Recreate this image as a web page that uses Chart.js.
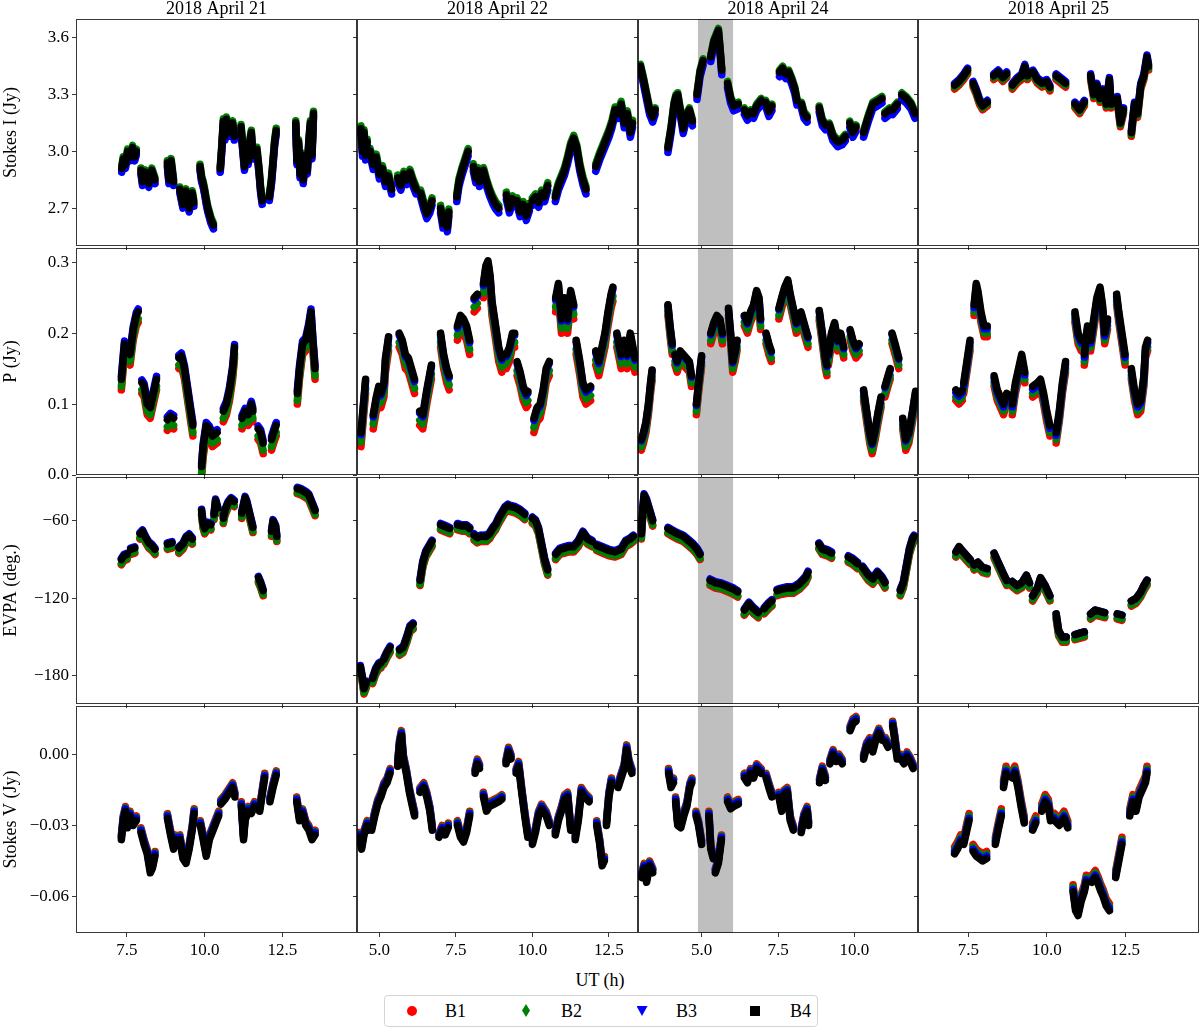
<!DOCTYPE html>
<html>
<head>
<meta charset="utf-8">
<script src="https://cdn.jsdelivr.net/npm/chart.js@4/dist/chart.umd.min.js"></script>
<style>
html, body { margin: 0; padding: 0; background: #fff; overflow: hidden; }
#fig { position: relative; width: 1200px; height: 1029px; font-family: 'Liberation Serif', 'Times New Roman', serif; color: #000; }
#fig canvas { position: absolute; }
#xlabel { position: absolute; left: 0; top: 969px; width: 1200px; text-align: center; font-size: 18px; line-height: 22px; }
#legend { position: absolute; left: 384px; top: 995px; width: 434px; height: 32px; box-sizing: border-box; border: 1px solid #d4d4d4; border-radius: 4px; background: #fff; }
#legend .txt { position: absolute; top: 4px; font-size: 18px; line-height: 22px; }
#legend .mk { position: absolute; }
</style>
</head>
<body>
<div id="fig">
  <div id="xlabel">UT (h)</div>
  <div id="legend"></div>
</div>
<script>
// ---- data ----
var bands = ['B1', 'B2', 'B3', 'B4'];
var dates = ['2018 April 21', '2018 April 22', '2018 April 24', '2018 April 25'];
var quantities = ['Stokes I (Jy)', 'P (Jy)', 'EVPA (deg.)', 'Stokes V (Jy)'];
var xRanges = [[5.86, 14.9], [4.27, 13.45], [2.92, 12.08], [5.89, 14.86]];
var xTicks = [[7.5, 10, 12.5], [5, 7.5, 10, 12.5], [5, 7.5, 10], [7.5, 10, 12.5]];
var yRanges = [[2.50, 3.70], [0, 0.32], [-201.8, -26], [-0.0754, 0.0204]];
var yTicks = [[2.7, 3.0, 3.3, 3.6], [0, 0.1, 0.2, 0.3], [-180, -120, -60], [-0.06, -0.03, 0]];
var yDecimals = [1, 1, 0, 2];
var shadeApr24 = [4.88, 6.03];

// band offsets of B1, B2, B3 relative to B4, per day
var offI = [[-0.012, 0.012, -0.02], [-0.006, 0.015, -0.025], [-0.01, 0.01, -0.025], [-0.02, -0.01, 0.01]];
var offP = [[-0.015, -0.01, 0.004], [-0.02, -0.013, -0.003], [-0.015, -0.01, -0.002], [-0.015, -0.01, -0.004]];
var offEVPA = [[-4, -3, 1], [-4, -3, 1], [-4, -3, 1], [-4, -3, 0]];
var offV = [[0.002, 0.0015, 0.001], [0.002, 0.0015, 0.001], [0.002, 0.0015, 0.001], [0.003, 0.002, 0.001]];

// B4 scans: [UT, value] per scan
var I_0421 = [
  [[7.33,2.91],[7.38,2.96],[7.45,2.93],[7.52,3.00],[7.6,2.97],[7.68,3.02],[7.75,2.97],[7.8,3.00]],
  [[7.95,2.90],[8.0,2.84],[8.1,2.89],[8.2,2.83],[8.3,2.90],[8.4,2.85]],
  [[8.8,2.94],[8.85,2.85],[8.92,2.95],[9.0,2.84]],
  [[9.2,2.80],[9.3,2.72],[9.4,2.79],[9.5,2.70],[9.6,2.78],[9.65,2.73]],
  [[9.85,2.92],[9.9,2.86],[9.95,2.83],[10.0,2.79],[10.05,2.74],[10.1,2.70],[10.15,2.67],[10.2,2.64],[10.28,2.61]],
  [[10.5,2.91],[10.55,3.02],[10.6,3.16],[10.65,3.08],[10.7,3.17],[10.8,3.10],[10.9,3.15],[10.95,3.08]],
  [[11.17,3.13],[11.22,3.03],[11.28,2.92],[11.32,2.98],[11.4,2.95],[11.45,3.05],[11.5,3.10],[11.55,2.98]],
  [[11.68,3.01],[11.75,2.90],[11.8,2.80],[11.85,2.74]],
  [[12.08,2.76],[12.15,2.85],[12.2,2.95],[12.25,3.05],[12.3,3.11]],
  [[12.93,3.15],[12.97,2.95],[13.02,3.05],[13.07,2.88],[13.12,2.98],[13.17,2.85],[13.22,2.95],[13.3,2.90],[13.35,3.05],[13.4,3.15],[13.45,2.98],[13.5,3.20]]
];
var I_0422 = [
  [[4.4,3.12],[4.45,3.0],[4.5,3.1],[4.55,2.98],[4.6,3.05]],
  [[4.7,3.00],[4.8,2.93],[4.9,2.97],[5.0,2.88],[5.1,2.91],[5.2,2.84],[5.3,2.87],[5.4,2.80]],
  [[5.6,2.86],[5.7,2.82],[5.8,2.88],[5.9,2.85],[6.0,2.89],[6.1,2.84],[6.2,2.80]],
  [[6.35,2.78],[6.45,2.72],[6.55,2.67],[6.65,2.70],[6.72,2.74]],
  [[7.0,2.70],[7.08,2.62],[7.15,2.66],[7.22,2.60],[7.27,2.68]],
  [[7.53,2.76],[7.6,2.84],[7.7,2.90],[7.8,2.95],[7.9,3.0]],
  [[8.07,2.92],[8.15,2.86],[8.22,2.90],[8.27,2.84]],
  [[8.4,2.90],[8.5,2.84],[8.6,2.79],[8.7,2.75],[8.8,2.72],[8.9,2.70]],
  [[9.15,2.77],[9.25,2.70],[9.35,2.75]],
  [[9.5,2.74],[9.6,2.68],[9.7,2.72],[9.8,2.66],[9.9,2.71]],
  [[10.0,2.74],[10.1,2.76],[10.2,2.73],[10.3,2.78],[10.4,2.76],[10.5,2.82]],
  [[10.75,2.76],[10.85,2.82],[10.95,2.86],[11.05,2.90],[11.15,2.96],[11.25,3.03],[11.35,3.07],[11.45,3.02],[11.55,2.92],[11.65,2.85],[11.75,2.80]],
  [[12.07,2.92],[12.2,2.98],[12.35,3.04],[12.5,3.10],[12.6,3.15],[12.7,3.22],[12.8,3.20],[12.9,3.25],[13.0,3.15],[13.1,3.20],[13.2,3.10],[13.27,3.15]]
];
var I_0424 = [
  [[3.0,3.45],[3.1,3.38],[3.2,3.30],[3.3,3.22],[3.4,3.18],[3.48,3.22]],
  [[3.9,3.02],[4.0,3.12],[4.1,3.25],[4.16,3.29]],
  [[4.22,3.30],[4.3,3.22],[4.4,3.12],[4.5,3.19],[4.6,3.22],[4.7,3.16]],
  [[4.85,3.30],[4.95,3.42],[5.05,3.48]],
  [[5.3,3.50],[5.4,3.58],[5.5,3.62],[5.55,3.64],[5.6,3.55],[5.66,3.43]],
  [[5.85,3.36],[5.95,3.28],[6.05,3.24],[6.2,3.25]],
  [[6.4,3.22],[6.5,3.19],[6.6,3.21],[6.7,3.20],[6.8,3.24],[6.95,3.27]],
  [[7.1,3.26],[7.2,3.21],[7.3,3.24]],
  [[7.55,3.42],[7.65,3.44],[7.75,3.41],[7.85,3.42],[7.95,3.38],[8.05,3.33],[8.12,3.27]],
  [[8.27,3.25],[8.35,3.20],[8.45,3.18]],
  [[8.85,3.23],[8.95,3.16],[9.05,3.14]],
  [[9.18,3.14],[9.3,3.08],[9.45,3.05],[9.6,3.06],[9.7,3.08]],
  [[9.85,3.15],[9.95,3.10],[10.05,3.13]],
  [[10.3,3.10],[10.45,3.18],[10.6,3.25],[10.8,3.27],[10.9,3.28]],
  [[11.0,3.20],[11.15,3.22]],
  [[11.25,3.22],[11.4,3.25]],
  [[11.55,3.30],[11.7,3.28],[11.85,3.25],[11.98,3.20]]
];
var I_0425 = [
  [[7.06,3.35],[7.2,3.37],[7.35,3.40],[7.47,3.43]],
  [[7.65,3.36],[7.75,3.32],[7.85,3.27],[7.95,3.24],[8.1,3.26]],
  [[8.31,3.40],[8.45,3.42],[8.6,3.39],[8.72,3.41]],
  [[8.9,3.35],[9.05,3.38],[9.2,3.40],[9.3,3.45],[9.38,3.40]],
  [[9.56,3.42],[9.7,3.38],[9.85,3.36],[10.0,3.37],[10.1,3.34]],
  [[10.3,3.40],[10.45,3.38],[10.6,3.36]],
  [[10.9,3.25],[11.05,3.22],[11.2,3.26]],
  [[11.4,3.40],[11.5,3.30],[11.6,3.35],[11.7,3.28],[11.8,3.32],[11.9,3.25],[12.0,3.38],[12.05,3.25]],
  [[12.25,3.28],[12.35,3.15],[12.45,3.22]],
  [[12.7,3.10],[12.8,3.25],[12.9,3.20],[13.0,3.35],[13.1,3.40],[13.2,3.50],[13.25,3.45]]
];

var P_0421 = [
  [[7.32,0.135],[7.38,0.165],[7.42,0.185],[7.5,0.175],[7.6,0.17],[7.7,0.205],[7.8,0.225],[7.86,0.23]],
  [[7.98,0.13],[8.05,0.125],[8.15,0.1],[8.25,0.095],[8.35,0.115],[8.45,0.135]],
  [[8.8,0.078],[8.9,0.083],[9.0,0.08]],
  [[9.17,0.165],[9.25,0.168],[9.35,0.15],[9.45,0.12],[9.55,0.09],[9.62,0.07]],
  [[9.9,0.012],[9.95,0.04],[10.05,0.07],[10.15,0.065],[10.25,0.055],[10.4,0.06]],
  [[10.6,0.09],[10.7,0.1],[10.8,0.12],[10.9,0.15],[10.96,0.18]],
  [[11.2,0.08],[11.3,0.09],[11.4,0.085],[11.5,0.1],[11.55,0.09]],
  [[11.72,0.065],[11.8,0.06],[11.88,0.045]],
  [[12.15,0.05],[12.22,0.06],[12.3,0.07]],
  [[12.98,0.115],[13.05,0.15],[13.15,0.185],[13.25,0.19],[13.35,0.21],[13.42,0.23],[13.48,0.19],[13.55,0.15]]
];
var P_0422 = [
  [[4.4,0.06],[4.48,0.1],[4.55,0.135]],
  [[4.8,0.085],[4.9,0.11],[4.98,0.125],[5.05,0.115],[5.15,0.13],[5.2,0.165],[5.3,0.195]],
  [[5.65,0.2],[5.75,0.19],[5.85,0.17],[5.95,0.165],[6.05,0.15],[6.15,0.135]],
  [[6.32,0.09],[6.42,0.085],[6.55,0.12],[6.7,0.155]],
  [[7.0,0.2],[7.1,0.17],[7.2,0.15],[7.28,0.14]],
  [[7.55,0.21],[7.65,0.225],[7.75,0.22],[7.85,0.21],[7.95,0.19]],
  [[8.1,0.25],[8.2,0.255]],
  [[8.4,0.27],[8.48,0.295],[8.55,0.302],[8.62,0.28],[8.68,0.245],[8.8,0.21],[8.9,0.18],[9.0,0.165]],
  [[9.15,0.17],[9.25,0.18],[9.35,0.2],[9.42,0.2]],
  [[9.5,0.16],[9.6,0.145],[9.7,0.125],[9.8,0.115],[9.85,0.118]],
  [[10.05,0.08],[10.15,0.095],[10.25,0.1],[10.35,0.12],[10.45,0.15],[10.55,0.16]],
  [[10.76,0.25],[10.85,0.27],[10.95,0.22],[11.05,0.25],[11.15,0.22],[11.25,0.26],[11.35,0.24]],
  [[11.43,0.19],[11.55,0.16],[11.65,0.13],[11.75,0.12],[11.9,0.125]],
  [[12.07,0.175],[12.17,0.16],[12.27,0.18],[12.37,0.2],[12.47,0.23],[12.57,0.255],[12.63,0.265]],
  [[12.76,0.2],[12.9,0.17],[13.0,0.19],[13.1,0.17],[13.2,0.2],[13.35,0.165]]
];
var P_0424 = [
  [[3.03,0.05],[3.1,0.06],[3.18,0.075],[3.26,0.1],[3.33,0.13],[3.38,0.148]],
  [[3.9,0.24],[3.97,0.21],[4.04,0.185]],
  [[4.13,0.17],[4.2,0.16],[4.3,0.175],[4.4,0.17],[4.5,0.165],[4.6,0.16],[4.67,0.14]],
  [[4.83,0.1],[4.9,0.13],[5.0,0.168]],
  [[5.3,0.2],[5.4,0.215],[5.5,0.225],[5.6,0.22],[5.68,0.2]],
  [[5.88,0.235],[5.95,0.2],[6.02,0.16],[6.1,0.175],[6.16,0.19]],
  [[6.4,0.225],[6.5,0.215],[6.6,0.23],[6.7,0.24],[6.8,0.26],[6.88,0.25],[6.93,0.22]],
  [[7.11,0.2],[7.2,0.185],[7.28,0.175]],
  [[7.53,0.235],[7.62,0.25],[7.72,0.265],[7.82,0.275],[7.9,0.255],[8.0,0.235],[8.1,0.215]],
  [[8.25,0.23],[8.38,0.21],[8.48,0.195]],
  [[8.85,0.232],[8.95,0.2],[9.05,0.165],[9.1,0.155]],
  [[9.15,0.17],[9.25,0.2],[9.35,0.215],[9.45,0.19],[9.55,0.2],[9.65,0.18]],
  [[9.86,0.205],[9.95,0.19],[10.05,0.18],[10.15,0.185]],
  [[10.3,0.12],[10.4,0.09],[10.5,0.06],[10.58,0.045],[10.68,0.065],[10.78,0.09],[10.87,0.11]],
  [[11.0,0.125],[11.1,0.14],[11.17,0.15]],
  [[11.23,0.2],[11.33,0.185],[11.45,0.165]],
  [[11.58,0.08],[11.68,0.05],[11.78,0.06],[11.9,0.09],[12.0,0.118]]
];
var P_0425 = [
  [[7.1,0.12],[7.2,0.115],[7.3,0.12]],
  [[7.35,0.13],[7.45,0.16],[7.55,0.19]],
  [[7.68,0.24],[7.75,0.27],[7.8,0.26],[7.9,0.23],[8.0,0.21],[8.1,0.21]],
  [[8.32,0.14],[8.42,0.12],[8.52,0.11],[8.62,0.1],[8.72,0.115]],
  [[8.9,0.1],[9.0,0.13],[9.1,0.15],[9.2,0.17],[9.3,0.145]],
  [[9.55,0.125],[9.7,0.13],[9.8,0.135],[9.9,0.115],[10.0,0.09],[10.1,0.07]],
  [[10.3,0.06],[10.4,0.09],[10.5,0.13],[10.6,0.16]],
  [[10.9,0.23],[11.0,0.2],[11.1,0.19]],
  [[11.2,0.17],[11.3,0.21]],
  [[11.4,0.19],[11.5,0.22],[11.6,0.25],[11.7,0.265],[11.78,0.24],[11.85,0.2],[11.94,0.22]],
  [[12.23,0.255],[12.3,0.23],[12.4,0.2],[12.5,0.17]],
  [[12.7,0.15],[12.8,0.12],[12.9,0.1],[13.0,0.105],[13.1,0.14],[13.15,0.18],[13.22,0.19]]
];

var EVPA_0421 = [
  [[7.32,-90],[7.4,-87],[7.5,-86]],
  [[7.62,-82],[7.75,-81]],
  [[7.92,-70],[8.0,-68],[8.1,-73],[8.2,-77],[8.3,-79],[8.4,-82]],
  [[8.8,-78],[8.95,-77]],
  [[9.17,-81],[9.3,-78],[9.4,-73],[9.5,-71],[9.6,-74]],
  [[9.9,-52],[9.95,-62],[10.0,-66],[10.1,-62],[10.2,-63]],
  [[10.3,-55],[10.35,-44],[10.42,-50]],
  [[10.6,-58],[10.65,-52],[10.75,-46],[10.85,-43],[10.95,-45]],
  [[11.19,-54],[11.3,-42],[11.35,-45],[11.45,-55],[11.55,-65]],
  [[11.73,-104],[11.8,-108],[11.88,-114]],
  [[12.15,-68],[12.2,-60],[12.28,-64],[12.32,-72]],
  [[12.98,-35],[13.1,-36],[13.25,-38],[13.35,-40],[13.45,-46],[13.55,-52]]
];
var EVPA_0422 = [
  [[4.38,-173],[4.45,-182],[4.5,-190],[4.58,-185]],
  [[4.78,-182],[4.88,-175],[4.98,-171],[5.05,-170]],
  [[5.15,-167],[5.25,-162],[5.35,-158]],
  [[5.66,-160],[5.78,-158],[5.9,-150],[6.0,-142],[6.1,-140]],
  [[6.33,-106],[6.42,-92],[6.52,-84],[6.62,-80],[6.72,-76]],
  [[7.0,-63],[7.1,-64],[7.2,-65],[7.3,-66]],
  [[7.55,-63],[7.7,-64],[7.85,-64],[7.95,-66]],
  [[8.1,-71],[8.2,-73],[8.3,-72]],
  [[8.4,-72],[8.5,-72],[8.6,-70],[8.7,-66],[8.8,-63],[8.9,-58],[9.0,-54],[9.1,-50],[9.2,-48]],
  [[9.3,-49],[9.45,-50],[9.6,-52],[9.75,-55]],
  [[10.0,-58],[10.1,-60],[10.2,-66],[10.3,-78],[10.4,-90],[10.5,-98]],
  [[10.76,-86],[10.9,-82],[11.05,-81],[11.2,-80],[11.35,-80],[11.5,-76],[11.65,-69],[11.8,-74],[11.95,-76]],
  [[12.1,-79],[12.3,-81],[12.5,-83],[12.7,-84],[12.9,-82],[13.05,-76],[13.2,-74],[13.3,-72]]
];
var EVPA_0424 = [
  [[3.03,-70],[3.08,-50],[3.12,-40],[3.2,-44],[3.3,-52],[3.4,-60]],
  [[3.9,-66],[4.05,-68],[4.2,-70],[4.4,-72],[4.55,-75],[4.7,-78],[4.85,-82],[4.95,-86]],
  [[5.28,-106],[5.45,-108],[5.65,-109],[5.85,-111],[6.05,-113],[6.18,-115]],
  [[6.4,-129],[6.55,-124],[6.7,-128],[6.85,-131]],
  [[7.05,-128],[7.2,-124],[7.3,-122]],
  [[7.47,-114],[7.6,-113],[7.8,-112],[8.0,-112],[8.2,-109],[8.4,-104],[8.48,-100]],
  [[8.84,-78],[8.95,-82],[9.1,-83],[9.25,-85]],
  [[9.8,-88],[9.95,-90],[10.1,-93]],
  [[10.27,-96],[10.45,-102],[10.6,-105],[10.75,-100],[10.9,-104],[11.0,-108]],
  [[11.5,-114],[11.6,-108],[11.7,-95],[11.8,-82],[11.9,-74],[11.95,-72]]
];
var EVPA_0425 = [
  [[7.1,-84],[7.2,-80],[7.3,-83],[7.45,-87],[7.56,-90]],
  [[7.68,-94],[7.8,-92],[7.95,-96],[8.1,-97]],
  [[8.32,-85],[8.45,-92],[8.6,-100],[8.72,-106]],
  [[8.9,-107],[9.05,-110],[9.2,-108],[9.35,-102],[9.45,-108]],
  [[9.55,-118],[9.7,-112],[9.8,-104],[9.95,-110],[10.1,-118]],
  [[10.3,-132],[10.38,-145],[10.5,-150],[10.62,-150]],
  [[10.9,-148],[11.05,-147],[11.2,-146]],
  [[11.4,-132],[11.55,-129],[11.7,-130],[11.85,-131]],
  [[12.25,-132],[12.4,-133]],
  [[12.7,-122],[12.85,-120],[13.0,-115],[13.1,-110],[13.2,-106]]
];

var V_0421 = [
  [[7.32,-0.036],[7.38,-0.028],[7.45,-0.024],[7.52,-0.031],[7.6,-0.026],[7.7,-0.03],[7.8,-0.028]],
  [[7.95,-0.033],[8.05,-0.038],[8.15,-0.042],[8.25,-0.05],[8.32,-0.048],[8.4,-0.043]],
  [[8.8,-0.027],[8.9,-0.034],[9.0,-0.04],[9.05,-0.036]],
  [[9.2,-0.036],[9.3,-0.044],[9.4,-0.046],[9.5,-0.04],[9.6,-0.032],[9.66,-0.025]],
  [[9.86,-0.03],[9.95,-0.036],[10.05,-0.043],[10.15,-0.036],[10.3,-0.031],[10.45,-0.026]],
  [[10.52,-0.021],[10.65,-0.019],[10.8,-0.016],[10.9,-0.014],[10.97,-0.018]],
  [[11.18,-0.022],[11.25,-0.036],[11.3,-0.028],[11.4,-0.024],[11.5,-0.025],[11.6,-0.022]],
  [[11.77,-0.024],[11.85,-0.017],[11.93,-0.01]],
  [[12.1,-0.02],[12.2,-0.014],[12.3,-0.009]],
  [[12.96,-0.02],[13.05,-0.028],[13.15,-0.025],[13.25,-0.03],[13.35,-0.032],[13.45,-0.036],[13.55,-0.034]]
];
var V_0422 = [
  [[4.35,-0.035],[4.42,-0.04],[4.5,-0.034],[4.6,-0.03],[4.67,-0.032]],
  [[4.75,-0.032],[4.85,-0.026],[4.95,-0.021],[5.05,-0.018],[5.15,-0.014],[5.25,-0.012],[5.35,-0.008]],
  [[5.6,-0.005],[5.66,0.004],[5.72,0.008],[5.78,-0.002],[5.88,-0.008],[5.98,-0.016],[6.08,-0.022],[6.15,-0.026]],
  [[6.33,-0.016],[6.45,-0.014],[6.55,-0.018],[6.65,-0.024],[6.73,-0.032]],
  [[6.95,-0.035],[7.05,-0.032],[7.15,-0.034],[7.25,-0.031]],
  [[7.55,-0.03],[7.65,-0.035],[7.75,-0.037],[7.85,-0.033],[7.95,-0.026]],
  [[8.13,-0.008],[8.2,-0.004],[8.27,-0.006]],
  [[8.4,-0.018],[8.5,-0.024],[8.6,-0.022],[8.75,-0.021],[8.9,-0.02],[9.0,-0.019]],
  [[9.14,-0.004],[9.22,0.001],[9.3,-0.002]],
  [[9.47,-0.008],[9.55,-0.005],[9.65,-0.016],[9.75,-0.026],[9.85,-0.035]],
  [[10.0,-0.038],[10.1,-0.033],[10.2,-0.026],[10.3,-0.023],[10.45,-0.026],[10.55,-0.03]],
  [[10.75,-0.034],[10.85,-0.028],[10.95,-0.024],[11.05,-0.019],[11.15,-0.018],[11.25,-0.032]],
  [[11.4,-0.036],[11.5,-0.028],[11.6,-0.016],[11.7,-0.018],[11.85,-0.02]],
  [[12.1,-0.03],[12.2,-0.038],[12.28,-0.047],[12.35,-0.045]],
  [[12.42,-0.03],[12.5,-0.018],[12.58,-0.012]],
  [[12.8,-0.014],[12.9,-0.01],[13.0,-0.006],[13.08,0.002],[13.15,-0.004],[13.25,-0.008]]
];
var V_0424 = [
  [[3.04,-0.052],[3.12,-0.048],[3.2,-0.054],[3.3,-0.047],[3.4,-0.05]],
  [[3.92,-0.008],[4.0,-0.014],[4.08,-0.012]],
  [[4.15,-0.02],[4.22,-0.03],[4.32,-0.031],[4.42,-0.026],[4.52,-0.022],[4.62,-0.014],[4.68,-0.012]],
  [[4.82,-0.026],[4.9,-0.03],[5.0,-0.038]],
  [[5.24,-0.026],[5.3,-0.04],[5.38,-0.044]],
  [[5.45,-0.05],[5.55,-0.046],[5.65,-0.036]],
  [[5.85,-0.02],[5.95,-0.023],[6.05,-0.022],[6.2,-0.021]],
  [[6.4,-0.01],[6.5,-0.012],[6.6,-0.008],[6.7,-0.01],[6.8,-0.006],[6.95,-0.008]],
  [[7.11,-0.01],[7.2,-0.014],[7.3,-0.018]],
  [[7.53,-0.018],[7.62,-0.024],[7.7,-0.017],[7.8,-0.016],[7.9,-0.028],[8.0,-0.032]],
  [[8.26,-0.033],[8.35,-0.027],[8.45,-0.024],[8.5,-0.03]],
  [[8.86,-0.012],[8.95,-0.007],[9.05,-0.011]],
  [[9.2,-0.004],[9.3,0.0],[9.4,-0.003],[9.5,-0.002],[9.6,-0.004]],
  [[9.86,0.01],[9.95,0.013],[10.05,0.014]],
  [[10.3,-0.002],[10.4,0.003],[10.5,0.005],[10.6,0.001],[10.7,0.006],[10.8,0.009],[10.9,0.006]],
  [[11.02,0.005],[11.1,0.003]],
  [[11.25,0.012],[11.32,0.006],[11.4,-0.002]],
  [[11.52,-0.002],[11.62,-0.004],[11.72,-0.001],[11.82,-0.003],[11.92,-0.006]]
];
var V_0425 = [
  [[7.06,-0.042],[7.15,-0.04],[7.25,-0.037],[7.35,-0.038],[7.45,-0.032],[7.52,-0.028]],
  [[7.65,-0.041],[7.75,-0.043],[7.85,-0.044],[7.95,-0.045],[8.08,-0.044]],
  [[8.36,-0.038],[8.45,-0.032],[8.55,-0.026]],
  [[8.62,-0.014],[8.7,-0.008]],
  [[8.9,-0.01],[8.98,-0.008],[9.08,-0.014],[9.18,-0.022],[9.28,-0.029]],
  [[9.55,-0.032],[9.65,-0.029]],
  [[9.84,-0.024],[9.95,-0.02],[10.05,-0.022],[10.12,-0.028]],
  [[10.25,-0.028],[10.4,-0.03],[10.55,-0.027],[10.67,-0.031]],
  [[10.84,-0.058],[10.92,-0.066],[11.0,-0.068],[11.1,-0.062],[11.2,-0.058],[11.26,-0.054]],
  [[11.44,-0.054],[11.55,-0.052],[11.65,-0.055],[11.73,-0.058],[11.8,-0.06],[11.9,-0.064],[12.0,-0.066]],
  [[12.2,-0.052],[12.3,-0.045],[12.4,-0.038]],
  [[12.65,-0.026],[12.75,-0.02],[12.85,-0.024],[12.95,-0.018],[13.05,-0.015],[13.15,-0.012],[13.2,-0.008]]
];

var panels = [
  [I_0421, I_0422, I_0424, I_0425],
  [P_0421, P_0422, P_0424, P_0425],
  [EVPA_0421, EVPA_0422, EVPA_0424, EVPA_0425],
  [V_0421, V_0422, V_0424, V_0425]
];
var offsets = [offI, offP, offEVPA, offV];

// ---- styling / layout ----
var FONT = "'Liberation Serif', 'Times New Roman', serif";
var bandColors = ['#ff0000', '#008000', '#0000ff', '#000000'];
var bandMarkers = ['circle', 'rectRot', 'triangle', 'rect'];
var colLeft = [76, 357, 638, 918];
var colW = [281, 281, 280, 281];
var rowTop = [19, 248, 477, 706];
var rowH = 227;
var spine = 'rgba(0,0,0,0.78)';

function minus(s) { return s.replace('-', '\u2212'); }

var framePlugin = {
  id: 'frame',
  afterDraw: function (chart) {
    var a = chart.chartArea, g = chart.ctx;
    g.save();
    g.strokeStyle = spine;
    g.lineWidth = 1;
    g.strokeRect(Math.round(a.left) + 0.5, Math.round(a.top) + 0.5,
      Math.round(a.right - a.left) - 1, Math.round(a.bottom - a.top) - 1);
    g.restore();
  }
};

var shadePlugin = {
  id: 'shade',
  beforeDatasetsDraw: function (chart, args, opts) {
    if (!opts.on) return;
    var a = chart.chartArea, xs = chart.scales.x, g = chart.ctx;
    var x0 = xs.getPixelForValue(shadeApr24[0]), x1 = xs.getPixelForValue(shadeApr24[1]);
    g.save();
    g.fillStyle = '#bfbfbf';
    g.fillRect(x0, a.top, x1 - x0, a.bottom - a.top);
    g.restore();
  }
};

function buildData(segs, off) {
  var pts = [];
  segs.forEach(function (seg, i) {
    if (i > 0) pts.push({ x: seg[0][0], y: null });
    seg.forEach(function (p) { pts.push({ x: p[0], y: p[1] + off }); });
  });
  return pts;
}

function makePanel(r, c) {
  var padL = c === 0 ? 76 : 8, padR = 4;
  var padT = r === 0 ? 19 : 14, padB = r === 3 ? 50 : 14;
  var cv = document.createElement('canvas');
  cv.width = colW[c] + padL + padR;
  cv.height = rowH + padT + padB;
  cv.style.left = (colLeft[c] - padL) + 'px';
  cv.style.top = (rowTop[r] - padT) + 'px';
  document.getElementById('fig').appendChild(cv);

  var datasets = bands.map(function (b, k) {
    var off = k < 3 ? offsets[r][c][k] : 0;
    return {
      label: b,
      data: buildData(panels[r][c], off),
      borderColor: bandColors[k],
      backgroundColor: bandColors[k],
      borderWidth: 7.5,
      borderJoinStyle: 'round',
      borderCapStyle: 'round',
      pointStyle: bandMarkers[k],
      pointRotation: k === 2 ? 180 : 0,
      pointRadius: 3.2,
      pointBorderWidth: 0,
      spanGaps: false,
      tension: 0,
      order: 3 - k
    };
  });

  var tickFont = { family: FONT, size: 17 };
  var gridOpts = { drawOnChartArea: false, drawTicks: true, tickLength: 4, color: spine, tickWidth: 1 };

  new Chart(cv, {
    type: 'line',
    data: { datasets: datasets },
    options: {
      responsive: false,
      animation: false,
      devicePixelRatio: 1,
      layout: { padding: { left: 0, right: padR, top: r === 0 ? 0 : padT, bottom: 0 } },
      plugins: {
        legend: { display: false },
        tooltip: { enabled: false },
        title: {
          display: r === 0, text: dates[c], color: '#000', fullSize: false,
          font: { family: FONT, size: 18, weight: 'normal', lineHeight: '19px' },
          padding: { top: 0, bottom: 0 }
        },
        shade: { on: c === 2 }
      },
      scales: {
        x: {
          type: 'linear', bounds: 'data',
          min: xRanges[c][0], max: xRanges[c][1],
          afterBuildTicks: function (s) { s.ticks = xTicks[c].map(function (v) { return { value: v }; }); },
          afterFit: function (s) { s.height = padB; },
          ticks: { display: r === 3, font: tickFont, color: '#000', padding: 3, maxRotation: 0,
            callback: function (v) { return Number(v).toFixed(1); } },
          grid: gridOpts,
          border: { display: false }
        },
        y: {
          type: 'linear', bounds: 'data',
          min: yRanges[r][0], max: yRanges[r][1],
          afterBuildTicks: function (s) { s.ticks = yTicks[r].map(function (v) { return { value: v }; }); },
          afterFit: function (s) { s.width = padL; },
          ticks: { display: c === 0, font: tickFont, color: '#000', padding: 3,
            callback: function (v) { return minus(Number(v).toFixed(yDecimals[r])); } },
          title: { display: c === 0, text: quantities[r], color: '#000',
            font: { family: FONT, size: 18 }, padding: { top: 0, bottom: 0 } },
          grid: gridOpts,
          border: { display: false }
        }
      }
    },
    plugins: [shadePlugin, framePlugin]
  });
}

for (var r = 0; r < 4; r++) {
  for (var c = 0; c < 4; c++) makePanel(r, c);
}

// legend (single, shared by all panels)
(function () {
  var lg = document.getElementById('legend');
  var mkX = [27, 141, 257, 370];
  var txX = [60, 176, 291, 405];
  var shapes = [
    'width:10px;height:10px;border-radius:50%;top:10px;',
    'width:8px;height:13px;top:8px;clip-path:polygon(50% 0,100% 50%,50% 100%,0 50%);',
    'width:11px;height:10px;top:10px;clip-path:polygon(0 0,100% 0,50% 100%);',
    'width:10px;height:10px;top:10px;'
  ];
  bands.forEach(function (b, k) {
    var m = document.createElement('div');
    m.className = 'mk';
    m.style.cssText = shapes[k] + 'background:' + bandColors[k] + ';';
    var w = parseFloat(m.style.width);
    m.style.left = (mkX[k] - w / 2) + 'px';
    lg.appendChild(m);
    var t = document.createElement('div');
    t.className = 'txt';
    t.style.left = txX[k] + 'px';
    t.textContent = b;
    lg.appendChild(t);
  });
})();
</script>
</body>
</html>
